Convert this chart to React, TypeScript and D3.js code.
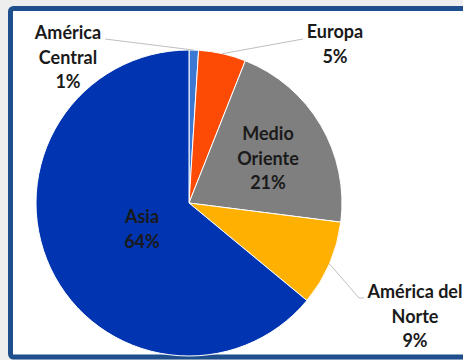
import React from "react";
import * as d3 from "d3";

const categories = ["América Central", "Europa", "Medio Oriente", "América del Norte", "Asia"];
const values = [1, 5, 21, 9, 64];
const colors = ["#3a78d4", "#fd4b06", "#7f7f7f", "#ffb000", "#0034b0"];
const labelLines = [["América", "Central", "1%"], ["Europa", "5%"], ["Medio", "Oriente", "21%"], ["América del", "Norte", "9%"], ["Asia", "64%"]];

// layout (not data)
const W = 463, H = 360;
const cx = 189, cy = 203, R = 153;
const labelPos: { x: number; y: number; lead?: [number, number][] }[] = [
  { x: 68, y: 39, lead: [[105, 39]] },
  { x: 335, y: 38, lead: [[303, 39]] },
  { x: 268, y: 140 },
  { x: 415, y: 298, lead: [[359, 298], [364, 298]] },
  { x: 142, y: 223 },
];
const lineH = 24.5;

export default function App() {
  const pie = d3.pie<number>().value((d) => d).sort(null).startAngle(0).endAngle(2 * Math.PI);
  const arcs = pie(values);
  const arc = d3.arc<d3.PieArcDatum<number>>().innerRadius(0).outerRadius(R);

  return (
    <svg width={W} height={H} style={{ position: "absolute", left: 0, top: 0 }} fontFamily="Lato, 'Open Sans', sans-serif">
      <rect x={0} y={0} width={W} height={H} fill="#eeeeee" />
      <rect x={10.5} y={8.5} width={480} height={348.5} rx={3} fill="#ffffff" stroke="#1f4e8c" strokeWidth={5} />
      <g transform={`translate(${cx},${cy})`}>
        {arcs.map((a, i) => (
          <path key={categories[i]} d={arc(a) || ""} fill={colors[i]} stroke="#ffffff" strokeWidth={1} />
        ))}
      </g>
      {arcs.map((a, i) => {
        const lp = labelPos[i];
        if (!lp.lead) return null;
        const mid = (a.startAngle + a.endAngle) / 2;
        const p0: [number, number] = [cx + R * Math.sin(mid), cy - R * Math.cos(mid)];
        const pts = [p0, ...lp.lead];
        return (
          <polyline key={"l" + i} points={pts.map((p) => p.join(",")).join(" ")} fill="none" stroke="#bfbfbf" strokeWidth={1} />
        );
      })}
      {labelLines.map((lines, i) => (
        <text key={"t" + i} x={labelPos[i].x} y={labelPos[i].y} textAnchor="middle" fontSize={18} fontWeight={700} fill="#1a1a1a">
          {lines.map((s, j) => (
            <tspan key={j} x={labelPos[i].x} y={labelPos[i].y + j * lineH}>{s}</tspan>
          ))}
        </text>
      ))}
    </svg>
  );
}
